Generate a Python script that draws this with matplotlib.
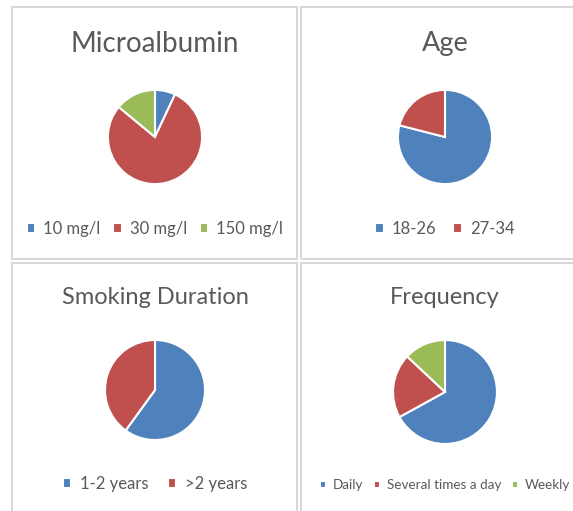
import matplotlib
matplotlib.use("Agg")
import matplotlib.pyplot as plt
from matplotlib.patches import Rectangle

W, H = 573, 511
DPI = 100

# Data
micro_labels = ["10 mg/l", "30 mg/l", "150 mg/l"]
micro_values = [7, 79, 14]
age_labels = ["18-26", "27-34"]
age_values = [79, 21]
smoke_labels = ["1-2 years", ">2 years"]
smoke_values = [60, 40]
freq_labels = ["Daily", "Several times a day", "Weekly"]
freq_values = [67, 20, 13]

colors = ["#4F81BD", "#C0504D", "#9BBB59"]
text_color = "#595959"
plt.rcParams['font.family'] = ['Lato', 'DejaVu Sans']

fig = plt.figure(figsize=(W / DPI, H / DPI), dpi=DPI)
fig.patch.set_facecolor("white")


def fx(x):
    return x / W


def fy(y):
    return 1 - y / H


# panel borders (pixel coords: x0, y0, x1, y1)
panels = [(12, 7, 297, 259), (301, 7, 590, 259), (12, 263, 297, 530), (301, 263, 590, 530)]
for (x0, y0, x1, y1) in panels:
    fig.patches.append(Rectangle((fx(x0), fy(y1)), fx(x1 - x0), (y1 - y0) / H,
                                 transform=fig.transFigure, fill=False,
                                 edgecolor="#d9d9d9", linewidth=1.5))

charts = [
    # title, labels, values, pie centre, radius, title pos, title size, legend y, legend size, colspacing, handle size
    ("Microalbumin", micro_labels, micro_values, (155, 137), 48, (155, 44), 20, 229, 12, 0.75, 0.5),
    ("Age", age_labels, age_values, (445, 137), 48, (445, 44), 19.5, 229, 12, 1.0, 0.5),
    ("Smoking Duration", smoke_labels, smoke_values, (155, 390), 51, (155, 297), 17, 484, 12, 1.2, 0.5),
    ("Frequency", freq_labels, freq_values, (445, 392), 53, (445, 297), 17, 485, 9.7, 0.8, 0.45),
]

for title, labels, values, (cx, cy), r, (tx, ty), tfs, ly, lfs, colsp, hs in charts:
    ax = fig.add_axes([fx(cx - r), fy(cy + r), 2 * r / W, 2 * r / H])
    wedges, _ = ax.pie(values, colors=colors[:len(values)], startangle=90,
                       counterclock=False, radius=1,
                       wedgeprops=dict(edgecolor="white", linewidth=1.5))
    ax.set_xlim(-1.02, 1.02)
    ax.set_ylim(-1.02, 1.02)
    ax.set_aspect("equal")
    ax.axis("off")
    fig.text(fx(tx), fy(ty), title, ha="center", va="center", fontsize=tfs,
             color=text_color)
    fig.legend(wedges, labels, loc="center", bbox_to_anchor=(fx(tx), fy(ly)),
               ncol=len(labels), frameon=False, fontsize=lfs,
               handlelength=hs, handleheight=hs, handletextpad=0.5,
               columnspacing=colsp, labelcolor=text_color)

fig.savefig("out.png", dpi=DPI, facecolor="white")
